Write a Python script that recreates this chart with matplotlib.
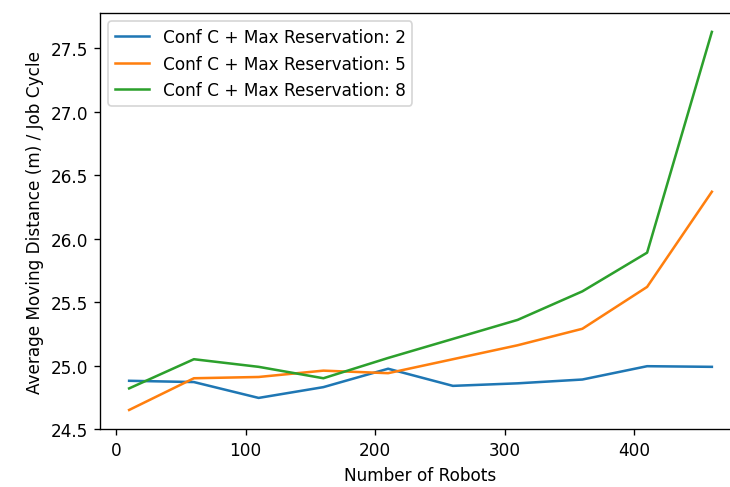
import numpy as np
import matplotlib
matplotlib.use("Agg")
import matplotlib.pyplot as plt

robots = [10, 60, 110, 160, 210, 260, 310, 360, 410, 460]
res_2 = [24.88, 24.87, 24.745, 24.83, 24.975, 24.84, 24.86, 24.89, 24.995, 24.99]
res_5 = [24.65, 24.90, 24.91, 24.96, 24.94, 25.05, 25.16, 25.29, 25.62, 26.37]
res_8 = [24.82, 25.05, 24.99, 24.90, 25.06, 25.21, 25.36, 25.585, 25.89, 27.63]
labels = ["Conf C + Max Reservation: 2",
          "Conf C + Max Reservation: 5",
          "Conf C + Max Reservation: 8"]

dpi = 121.67
fig = plt.figure(figsize=(730 / dpi, 488 / dpi), dpi=dpi)
# axes runs a bit past the right edge, like the cropped original
ax = fig.add_axes([100 / 730, 58 / 488, 641 / 730, 416 / 488])

for y, lab in zip([res_2, res_5, res_8], labels):
    ax.plot(robots, y, label=lab)

ax.set_xlabel("Number of Robots")
ax.set_ylabel("Average Moving Distance (m) / Job Cycle")
ax.set_yticks([24.5, 25.0, 25.5, 26.0, 26.5, 27.0, 27.5])
ax.legend(loc="upper left")

fig.savefig("out.png", dpi=dpi)
